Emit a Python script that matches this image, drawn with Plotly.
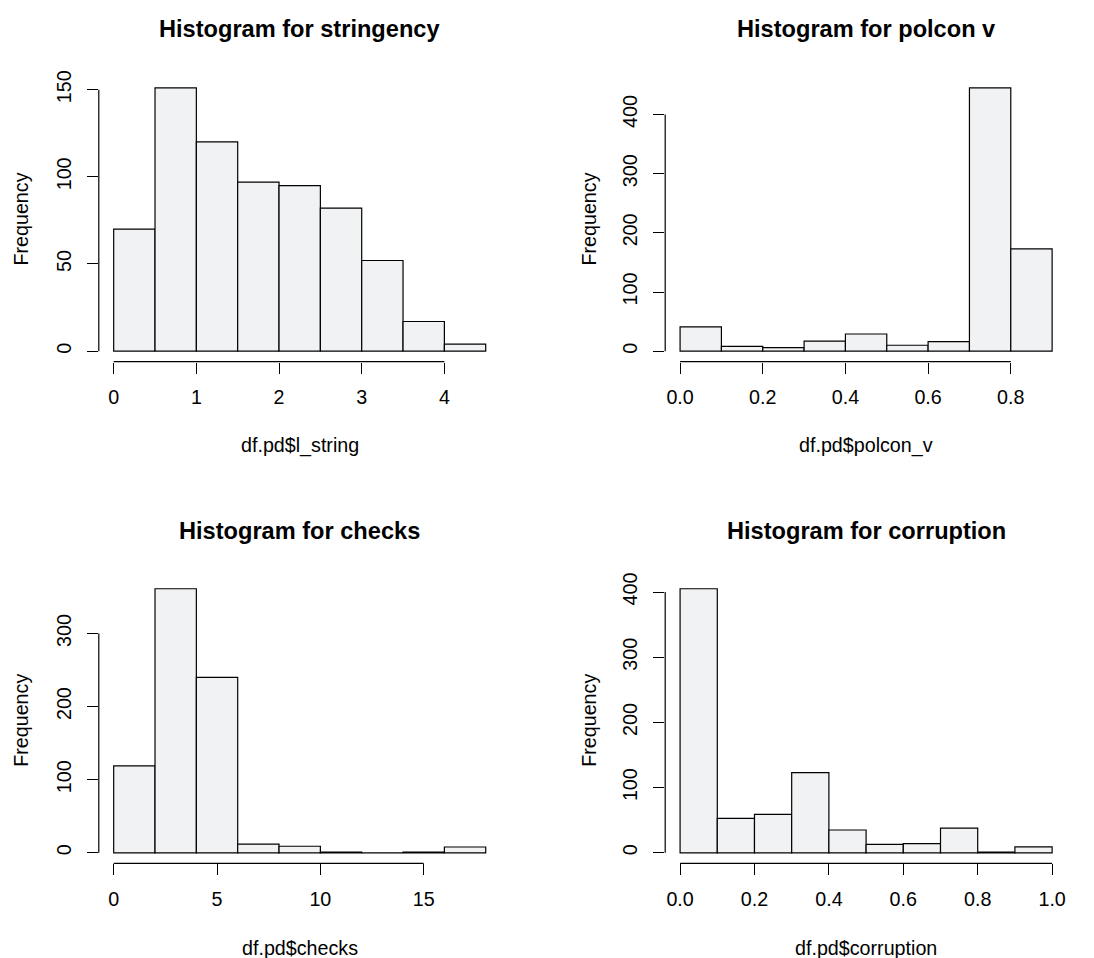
import plotly.graph_objects as go

W, H = 1094, 958

# ---- data ----
stringency_start, stringency_width = 0.0, 0.5
stringency_counts = [70, 151, 120, 97, 95, 82, 52, 17, 4]

polcon_start, polcon_width = 0.0, 0.1
polcon_counts = [41, 8, 6, 17, 29, 10, 16, 445, 173]

checks_start, checks_width = 0.0, 2.0
checks_counts = [119, 361, 240, 12, 9, 1, 0, 1, 8]

corruption_start, corruption_width = 0.0, 0.1
corruption_counts = [405, 53, 59, 123, 35, 13, 14, 38, 1, 9]

titles = ["Histogram for stringency", "Histogram for polcon v",
          "Histogram for checks", "Histogram for corruption"]
xlabels = ["df.pd$l_string", "df.pd$polcon_v", "df.pd$checks", "df.pd$corruption"]

xticks = [[0, 1, 2, 3, 4],
          [0, 0.2, 0.4, 0.6, 0.8],
          [0, 5, 10, 15],
          [0, 0.2, 0.4, 0.6, 0.8, 1.0]]
xticktext = [["0", "1", "2", "3", "4"],
             ["0.0", "0.2", "0.4", "0.6", "0.8"],
             ["0", "5", "10", "15"],
             ["0.0", "0.2", "0.4", "0.6", "0.8", "1.0"]]
yticks = [[0, 50, 100, 150],
          [0, 100, 200, 300, 400],
          [0, 100, 200, 300],
          [0, 100, 200, 300, 400]]

panels = [
    (stringency_start, stringency_width, stringency_counts),
    (polcon_start, polcon_width, polcon_counts),
    (checks_start, checks_width, checks_counts),
    (corruption_start, corruption_width, corruption_counts),
]

# ---- layout geometry (pixels) ----
cols = [(98.8, 500.6), (665.2, 1067.0)]
rows = [(70.9, 357.3), (575.4, 862.7)]
title_y = [22, 528]
xlab_y = [442, 948]
ylab_x = [21, 589]

FONT = "Liberation Sans, Arial, Helvetica, sans-serif"
BASE = 19.7
FILL = "#f1f2f4"

fig = go.Figure()
annotations = []
shapes = []
layout = dict(
    width=W, height=H, margin=dict(l=0, r=0, t=0, b=0),
    plot_bgcolor="white", paper_bgcolor="white", showlegend=False,
    font=dict(family=FONT, size=BASE, color="black"),
)

for i, (start, width, counts) in enumerate(panels):
    r, c = divmod(i, 2)
    ax = "" if i == 0 else str(i + 1)
    xa, ya = "x" + ax, "y" + ax
    n = len(counts)
    lefts = [start + k * width for k in range(n)]
    xmin, xmax = start, start + n * width
    xpad = 0.04 * (xmax - xmin)
    ymax = max(counts)
    ypad = 0.04 * ymax

    fig.add_trace(go.Bar(
        x=lefts, y=counts, width=[width] * n, offset=0,
        marker=dict(color=FILL, line=dict(color="black", width=1.2)),
        xaxis=xa, yaxis=ya, hoverinfo="x+y",
    ))

    x0, x1 = cols[c]
    yt, yb = rows[r]
    common = dict(showgrid=False, zeroline=False, showline=False,
                  ticks="outside", ticklen=11, tickwidth=1.2, tickcolor="black",
                  tickfont=dict(family=FONT, size=BASE, color="black"))
    layout["xaxis" + ax] = dict(
        domain=[x0 / W, x1 / W], range=[xmin - xpad, xmax + xpad],
        anchor=ya, tickmode="array", tickvals=xticks[i], ticktext=xticktext[i],
        ticklabelstandoff=7, **common)
    layout["yaxis" + ax] = dict(
        domain=[1 - yb / H, 1 - yt / H], range=[-ypad, ymax + ypad],
        anchor=xa, tickmode="array", tickvals=yticks[i],
        ticktext=[str(v) for v in yticks[i]], tickangle=-90,
        ticklabelstandoff=8, **common)

    # R-style axis lines spanning only the tick range
    shapes.append(dict(type="line", xref=xa, yref=ya + " domain",
                       x0=xticks[i][0], x1=xticks[i][-1], y0=0, y1=0,
                       line=dict(color="black", width=1.2)))
    shapes.append(dict(type="line", xref=xa + " domain", yref=ya,
                       x0=0, x1=0, y0=yticks[i][0], y1=yticks[i][-1],
                       line=dict(color="black", width=1.2)))

    cx = (x0 + x1) / 2
    annotations.append(dict(text="<b>%s</b>" % titles[i], x=cx / W, y=1 - title_y[r] / H,
                            xref="paper", yref="paper", showarrow=False,
                            xanchor="center", yanchor="middle",
                            font=dict(family=FONT, size=23.6, color="black")))
    annotations.append(dict(text=xlabels[i], x=cx / W, y=1 - xlab_y[r] / H,
                            xref="paper", yref="paper", showarrow=False,
                            xanchor="center", yanchor="middle",
                            font=dict(family=FONT, size=BASE, color="black")))
    annotations.append(dict(text="Frequency", x=ylab_x[c] / W, y=1 - ((yt + yb) / 2) / H,
                            xref="paper", yref="paper", showarrow=False, textangle=-90,
                            xanchor="center", yanchor="middle",
                            font=dict(family=FONT, size=BASE, color="black")))

layout["annotations"] = annotations
layout["shapes"] = shapes
fig.update_layout(**layout)
fig.write_html("out.html")
